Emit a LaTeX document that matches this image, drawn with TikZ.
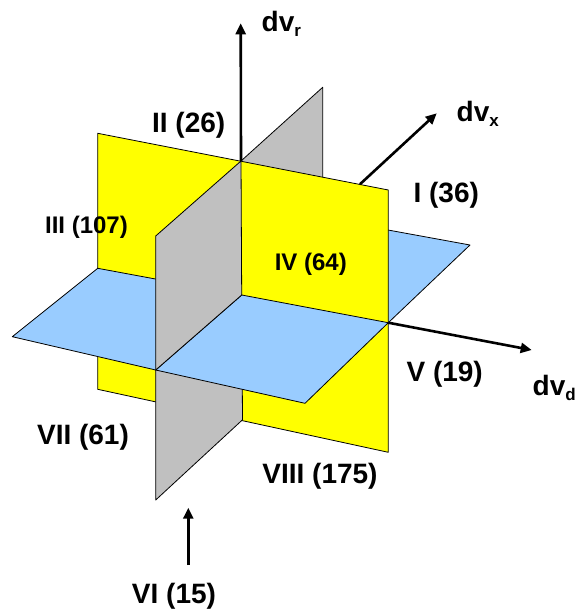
\documentclass[tikz,border=0pt]{standalone}
\usepackage{fontspec}
\setmainfont{Liberation Sans}
\usetikzlibrary{arrows.meta}
\definecolor{planeyellow}{HTML}{FFFF00}
\definecolor{planeblue}{HTML}{99CCFF}
\definecolor{planegray}{HTML}{C0C0C0}
\newcommand{\axislabel}[1]{dv\raisebox{-5pt}{\fontsize{17}{17}\selectfont #1}}
\begin{document}
\begin{tikzpicture}[x=1pt,y=-1pt,
  plane/.style={draw=black,line width=0.8pt,line join=round},
  axis/.style={line width=2.6pt,-{Triangle[length=11pt,width=10pt]}},
  big/.style={font=\fontsize{28}{30}\selectfont\bfseries,inner sep=0pt},
  small/.style={font=\fontsize{24}{26}\selectfont\bfseries,inner sep=0pt}]
\useasboundingbox (0,0) rectangle (576,609);

% key points of the three crossing planes
\coordinate (C)   at (241.7,295);   % common centre
\coordinate (YTL) at (97.7,133.3);
\coordinate (YTR) at (388.3,190);
\coordinate (YBR) at (388.3,452.3);
\coordinate (YBL) at (97.7,389.3);
\coordinate (YL)  at (97.7,268.3);
\coordinate (YR)  at (388.3,322.7);
\coordinate (GT)  at (241,161);
\coordinate (GB)  at (242.5,419.8);
\coordinate (GTF) at (155.7,236);
\coordinate (GTB) at (322.7,87.3);
\coordinate (GMB) at (322.7,226);
\coordinate (GF)  at (155.7,370);
\coordinate (GBF) at (155.7,500);
\coordinate (BL)  at (12.3,336.7);
\coordinate (BB)  at (191,194);
\coordinate (BR)  at (470,245);
\coordinate (BF)  at (305,403.3);

% planes, back to front
\filldraw[plane,fill=planegray]   (GT) -- (GTB) -- (GMB) -- (C) -- cycle;
\filldraw[plane,fill=planeblue]   (YL) -- (BB) -- (BR) -- (YR) -- cycle;
\filldraw[plane,fill=planeyellow] (YTL) -- (YTR) -- (YBR) -- (YBL) -- cycle;
\filldraw[plane,fill=planegray]   (GF) -- (C) -- (GB) -- (GBF) -- cycle;
\filldraw[plane,fill=planeblue]   (BL) -- (YL) -- (C) -- (GF) -- cycle;
\filldraw[plane,fill=planeblue]   (GF) -- (C) -- (YR) -- (BF) -- cycle;
\filldraw[plane,fill=planegray]   (GTF) -- (GT) -- (C) -- (GF) -- cycle;

% axes
\coordinate (rtip) at (240.7,23.3);
\coordinate (xbase) at (360,184.2);
\coordinate (xtip) at (436.7,113.3);
\coordinate (dtip) at (531.7,350);
\coordinate (vibase) at (188.3,565);
\coordinate (vitip) at (188.3,507.7);
\draw[axis] (GT) -- (rtip);
\draw[axis] (xbase) -- (xtip);
\draw[axis] (YR) -- (dtip);
\draw[axis] (vibase) -- (vitip);

\node[big,anchor=base west] (lr) at (261.5,31.7) {\axislabel{r}};
\node[big,anchor=base west] (lx) at (456.5,121.7) {\axislabel{x}};
\node[big,anchor=base west] (ld) at (532.5,395.5) {\axislabel{d}};

% octant labels
\node[big]   (o2) at (188.7,125.7) {II (26)};
\node[small] (o3) at (86.5,227.5)  {III (107)};
\node[big]   (o1) at (446.3,195)   {I (36)};
\node[small] (o4) at (310.8,264.7) {IV (64)};
\node[big]   (o5) at (444.7,374.5) {V (19)};
\node[big]   (o7) at (83,437)      {VII (61)};
\node[big]   (o8) at (320,476.3)   {VIII (175)};
\node[big]   (o6) at (174,596)     {VI (15)};
\end{tikzpicture}
\end{document}
